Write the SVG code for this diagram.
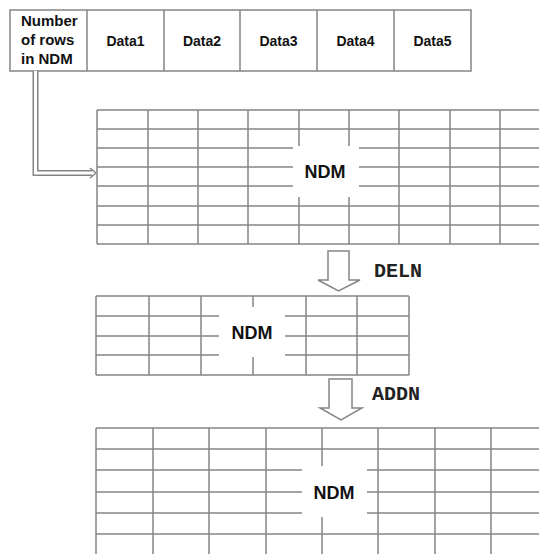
<svg xmlns="http://www.w3.org/2000/svg" width="539" height="554" viewBox="0 0 539 554">
<style>
.g{stroke:#858585;stroke-width:1.5;fill:none}
.hole{fill:#fff;stroke:none}
.hdr{font-family:"Liberation Sans",Arial,sans-serif;font-weight:bold;font-size:14px;fill:#111}
.hdr1{font-family:"Liberation Sans",Arial,sans-serif;font-weight:bold;font-size:15px;fill:#111}
.ndm{font-family:"Liberation Sans",Arial,sans-serif;font-weight:bold;font-size:18px;fill:#111;text-anchor:middle}
.cmd{font-family:"Liberation Mono","Courier New",monospace;font-weight:bold;font-size:20px;fill:#222}
.blk{fill:#fff;stroke:#858585;stroke-width:1.5}
</style>
<rect width="539" height="554" fill="#fff"/>

<g id="header">
<rect class="g" x="10" y="10" width="461" height="61"/>
<path class="g" d="M87 10V71M164 10V71M240 10V71M317 10V71M394 10V71"/>
<text class="hdr1" x="21" y="26">Number</text>
<text class="hdr1" x="21" y="45">of rows</text>
<text class="hdr1" x="21" y="64">in NDM</text>
<g class="hdr" text-anchor="middle">
<text x="125.5" y="46">Data1</text>
<text x="202" y="46">Data2</text>
<text x="278.5" y="46">Data3</text>
<text x="355.5" y="46">Data4</text>
<text x="432.5" y="46">Data5</text>
</g>
</g>

<g id="ndm1">
<path class="g" d="M97 110H539M97 129H539M97 148H539M97 167H539M97 186H539M97 206H539M97 225H539M97 244H539"/>
<path class="g" d="M97 110V244M148 110V244M198 110V244M248 110V244M299 110V244M349 110V244M399 110V244M450 110V244M500 110V244"/>
<rect class="hole" x="293" y="146" width="66" height="51"/>
<text class="ndm" x="325" y="178">NDM</text>
</g>

<g id="ndm2">
<path class="g" d="M96 296H409M96 316H409M96 336H409M96 355H409M96 375H409"/>
<path class="g" d="M96 296V375M149 296V375M201 296V375M253 296V375M306 296V375M357 296V375M409 296V375"/>
<rect class="hole" x="219" y="307" width="66" height="50"/>
<text class="ndm" x="252" y="339">NDM</text>
</g>

<g id="ndm3">
<path class="g" d="M96 428H539M96 449H539M96 470H539M96 492H539M96 513H539M96 534H539"/>
<path class="g" d="M96 428V554M153 428V554M209 428V554M266 428V554M322 428V554M378 428V554M435 428V554M491 428V554"/>
<rect class="hole" x="302" y="466" width="65" height="51"/>
<text class="ndm" x="334" y="499">NDM</text>
</g>

<g id="deln">
<polygon class="blk" points="328,251 349,251 349,280 360,280 338.5,291 318,280 328,280"/>
<text class="cmd" x="374" y="277">DELN</text>
</g>

<g id="addn">
<polygon class="blk" points="329,379 352,379 352,408 362,408 341,420 320,408 329,408"/>
<text class="cmd" x="372" y="400">ADDN</text>
</g>

<g id="connectors">
<path d="M35.5 71V173H92" fill="none" stroke="#858585" stroke-width="6"/>
<path d="M35.5 71V173H93" fill="none" stroke="#fff" stroke-width="3"/>
<path d="M90 168L96 173L90 178" fill="none" stroke="#858585" stroke-width="1.5"/>
</g>
</svg>
